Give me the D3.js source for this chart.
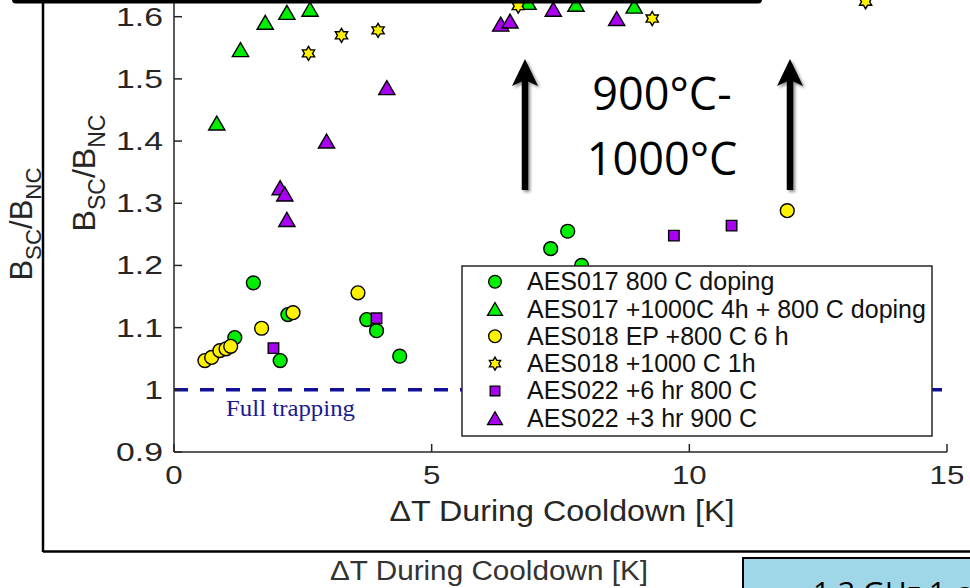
<!DOCTYPE html>
<html><head><meta charset="utf-8">
<script src="https://cdn.jsdelivr.net/npm/d3@7"></script>
<style>
html,body{margin:0;padding:0;background:#fff;}
svg{display:block;}
</style></head>
<body>
<svg id="c" width="970" height="588"></svg>
<script>
// ---------------- DATA ----------------
const xTicks = [0, 5, 10, 15];
const xTickLabels = ["0", "5", "10", "15"];
const yTicks = [0.9, 1.0, 1.1, 1.2, 1.3, 1.4, 1.5, 1.6];
const yTickLabels = ["0.9", "1", "1.1", "1.2", "1.3", "1.4", "1.5", "1.6"];

const seriesNames = [
  "AES017 800 C doping",
  "AES017 +1000C 4h + 800 C doping",
  "AES018 EP +800 C 6 h",
  "AES018 +1000 C 1h",
  "AES022 +6 hr 800 C",
  "AES022 +3 hr 900 C"
];

const aes017_800_x = [1.18, 1.54, 2.06, 2.21, 3.74, 3.93, 4.38, 7.31, 7.64, 7.91];
const aes017_800_y = [1.084, 1.172, 1.047, 1.121, 1.113, 1.095, 1.054, 1.227, 1.255, 1.200];

const aes017_1000_x = [0.83, 1.29, 1.77, 2.19, 2.64, 6.87, 7.80, 8.93];
const aes017_1000_y = [1.429, 1.547, 1.591, 1.607, 1.612, 1.623, 1.620, 1.617];

const aes018_ep_x = [0.60, 0.73, 0.89, 1.01, 1.10, 1.70, 2.31, 3.57, 11.90];
const aes018_ep_y = [1.047, 1.052, 1.063, 1.066, 1.070, 1.099, 1.124, 1.156, 1.288];

const aes018_1000_x = [2.61, 3.25, 3.96, 6.68, 9.28, 13.42];
const aes018_1000_y = [1.541, 1.570, 1.578, 1.617, 1.597, 1.624];

const aes022_800_x = [1.93, 3.93, 9.70, 10.82];
const aes022_800_y = [1.067, 1.115, 1.248, 1.264];

const aes022_900_x = [2.06, 2.15, 2.19, 2.96, 4.13, 6.34, 6.52, 7.36, 8.59];
const aes022_900_y = [1.325, 1.315, 1.274, 1.400, 1.486, 1.588, 1.593, 1.612, 1.597];

const referenceLevel = 1.0;
const referenceLabel = "Full trapping";
const annotationLines = ["900°C-", "1000°C"];
const xLabel = "\u0394T During Cooldown [K]";

// ---------------- STYLE ----------------
const GREEN = "#00ee00", YELLOW = "#fff200", PURPLE = "#a800f0";
const AX = "#262626";

const hexagram = {
  draw(ctx, size) {
    const R = Math.sqrt(size) * 0.62, r = R / Math.sqrt(3);
    for (let i = 0; i < 12; i++) {
      const a = -Math.PI / 2 + i * Math.PI / 6;
      const rr = i % 2 === 0 ? R : r;
      const px = rr * Math.cos(a), py = rr * Math.sin(a);
      if (i === 0) ctx.moveTo(px, py); else ctx.lineTo(px, py);
    }
    ctx.closePath();
  }
};
const triUp = {
  draw(ctx, size) {
    const s = Math.sqrt(size);
    ctx.moveTo(0, -s * 0.5);
    ctx.lineTo(s * 0.58, s * 0.5);
    ctx.lineTo(-s * 0.58, s * 0.5);
    ctx.closePath();
  }
};

const series = [
  {name: seriesNames[0], xs: aes017_800_x, ys: aes017_800_y, type: d3.symbolCircle, size: 150, fill: GREEN},
  {name: seriesNames[1], xs: aes017_1000_x, ys: aes017_1000_y, type: triUp, size: 196, fill: GREEN},
  {name: seriesNames[2], xs: aes018_ep_x, ys: aes018_ep_y, type: d3.symbolCircle, size: 150, fill: YELLOW},
  {name: seriesNames[3], xs: aes018_1000_x, ys: aes018_1000_y, type: hexagram, size: 130, fill: YELLOW},
  {name: seriesNames[4], xs: aes022_800_x, ys: aes022_800_y, type: d3.symbolSquare, size: 110, fill: PURPLE},
  {name: seriesNames[5], xs: aes022_900_x, ys: aes022_900_y, type: triUp, size: 196, fill: PURPLE}
];

// ---------------- CHART ----------------
const svg = d3.select("#c");
const x = d3.scaleLinear().domain([0, 15]).range([174, 947]);
const y = d3.scaleLinear().domain([0.9, 1.6]).range([452, 16.7]);

const defs = svg.append("defs");
const f = defs.append("filter").attr("id", "sh").attr("x", "-50%").attr("y", "-20%").attr("width", "200%").attr("height", "140%");
f.append("feGaussianBlur").attr("in", "SourceAlpha").attr("stdDeviation", 1.6);
f.append("feOffset").attr("dx", 1.5).attr("dy", 2).attr("result", "o");
f.append("feComponentTransfer").append("feFuncA").attr("type", "linear").attr("slope", 0.45);
const fm = f.append("feMerge"); fm.append("feMergeNode"); fm.append("feMergeNode").attr("in", "SourceGraphic");

// outer slide frame
svg.append("line").attr("x1", 43).attr("x2", 43).attr("y1", 0).attr("y2", 552).attr("stroke", "#000").attr("stroke-width", 2.5);
svg.append("line").attr("x1", 43).attr("x2", 970).attr("y1", 551.5).attr("y2", 551.5).attr("stroke", "#000").attr("stroke-width", 2.5);

// y label helper (with subscripts)
function yLabel(g, fs) {
  const t = g.append("text").attr("text-anchor", "middle").attr("font-family", "Liberation Sans, Arial, sans-serif")
    .attr("font-size", fs).attr("fill", AX);
  t.append("tspan").text("B");
  t.append("tspan").attr("font-size", fs * 0.72).attr("dy", fs * 0.3).text("SC");
  t.append("tspan").attr("dy", -fs * 0.3).text("/B");
  t.append("tspan").attr("font-size", fs * 0.72).attr("dy", fs * 0.3).text("NC");
  return t;
}
yLabel(svg.append("g").attr("transform", "translate(32,224) rotate(-90)"), 31);

// outer x label
svg.append("text").attr("x", 489).attr("y", 580).attr("text-anchor", "middle")
  .attr("font-family", "Liberation Sans, Arial, sans-serif").attr("font-size", 27).attr("fill", "#333")
  .attr("textLength", 318).attr("lengthAdjust", "spacingAndGlyphs").text(xLabel);

// reference line
svg.append("line").attr("x1", x(0)).attr("x2", x(15)).attr("y1", y(referenceLevel)).attr("y2", y(referenceLevel))
  .attr("stroke", "#10109a").attr("stroke-width", 3.5).attr("stroke-dasharray", "14,12");
svg.append("text").attr("x", 226).attr("y", 416).attr("font-family", "Liberation Serif, Times New Roman, serif")
  .attr("font-size", 23).attr("fill", "#1a1a90").attr("textLength", 129).attr("lengthAdjust", "spacingAndGlyphs").text(referenceLabel);

// axes
const axG = svg.append("g");
axG.append("line").attr("x1", x(0)).attr("x2", x(0)).attr("y1", 0).attr("y2", y(0.9)).attr("stroke", AX).attr("stroke-width", 1.5);
axG.append("line").attr("x1", x(0)).attr("x2", x(15)).attr("y1", y(0.9)).attr("y2", y(0.9)).attr("stroke", AX).attr("stroke-width", 1.5);
yTicks.forEach((v, i) => {
  axG.append("line").attr("x1", x(0)).attr("x2", x(0) + 8).attr("y1", y(v)).attr("y2", y(v)).attr("stroke", AX).attr("stroke-width", 1.5);
  axG.append("text").attr("transform", `translate(163,${y(v) + 9}) scale(1.35,1)`).attr("text-anchor", "end")
    .attr("font-family", "Liberation Sans, Arial, sans-serif").attr("font-size", 25).attr("fill", AX).text(yTickLabels[i]);
});
xTicks.forEach((v, i) => {
  axG.append("line").attr("x1", x(v)).attr("x2", x(v)).attr("y1", y(0.9)).attr("y2", y(0.9) - 8).attr("stroke", AX).attr("stroke-width", 1.5);
  axG.append("text").attr("transform", `translate(${x(v)},${484}) scale(1.25,1)`).attr("text-anchor", "middle")
    .attr("font-family", "Liberation Sans, Arial, sans-serif").attr("font-size", 25).attr("fill", AX).text(xTickLabels[i]);
});

// inner labels
yLabel(svg.append("g").attr("transform", "translate(95,173) rotate(-90)"), 32);
svg.append("text").attr("x", 562).attr("y", 521).attr("text-anchor", "middle")
  .attr("font-family", "Liberation Sans, Arial, sans-serif").attr("font-size", 29).attr("fill", AX)
  .attr("textLength", 345).attr("lengthAdjust", "spacingAndGlyphs").text(xLabel);

// points
const sym = d3.symbol();
series.forEach(s => {
  const pts = s.xs.map((v, i) => [v, s.ys[i]]);
  svg.append("g").selectAll("path").data(pts).join("path")
    .attr("transform", d => `translate(${x(d[0])},${y(d[1])})`)
    .attr("d", sym.type(s.type).size(s.size)())
    .attr("fill", s.fill).attr("stroke", "#000").attr("stroke-width", 1.4);
});

// legend
const lg = svg.append("g");
lg.append("rect").attr("x", 462).attr("y", 266).attr("width", 470).attr("height", 170)
  .attr("fill", "#fff").attr("stroke", AX).attr("stroke-width", 1.5);
series.forEach((s, i) => {
  const cy = 281.7 + i * 27.3;
  lg.append("path").attr("transform", `translate(495,${cy})`)
    .attr("d", sym.type(s.type).size(s.size * 0.85)())
    .attr("fill", s.fill).attr("stroke", "#000").attr("stroke-width", 1.3);
  lg.append("text").attr("x", 527).attr("y", cy + 8.5).attr("font-family", "Liberation Sans, Arial, sans-serif")
    .attr("font-size", 25).attr("fill", "#111").text(s.name);
});

// slide elements: top bar, arrows, annotation
svg.append("rect").attr("x", 12).attr("y", -12).attr("width", 750).attr("height", 15.5).attr("rx", 4).attr("fill", "#000");

const arrowG = svg.append("g").attr("filter", "url(#sh)");
[525, 790].forEach(ax => {
  arrowG.append("line").attr("x1", ax).attr("x2", ax).attr("y1", 190).attr("y2", 80).attr("stroke", "#000").attr("stroke-width", 6.5);
  arrowG.append("path").attr("d", `M${ax},59 L${ax + 13},86 L${ax},80 L${ax - 13},86 Z`).attr("fill", "#000");
});
annotationLines.forEach((t, i) => {
  svg.append("text").attr("x", 662).attr("y", 110 + i * 65).attr("text-anchor", "middle")
    .attr("font-family", "Open Sans, Noto Sans, sans-serif").attr("font-size", 45).attr("fill", "#000").text(t);
});

// bottom-right light-blue box (partially visible, as in the reference)
svg.append("rect").attr("x", 743).attr("y", 558).attr("width", 260).attr("height", 60)
  .attr("fill", "#9fd6e8").attr("stroke", "#000").attr("stroke-width", 2);
svg.append("text").attr("x", 813).attr("y", 603).attr("font-family", "Open Sans, Noto Sans, sans-serif")
  .attr("font-size", 30).attr("fill", "#000").text("1.3 GHz 1-cell");
</script>
</body></html>
